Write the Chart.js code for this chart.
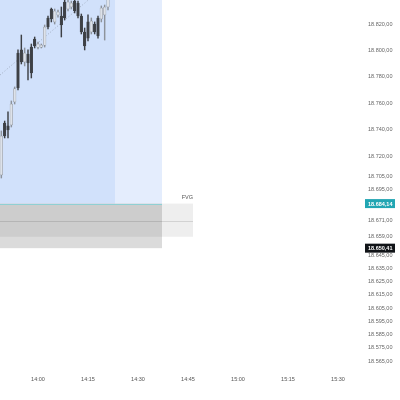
<!DOCTYPE html>
<html>
<head>
<meta charset="utf-8">
<style>
  html, body { margin: 0; padding: 0; background: #fff; }
  canvas { display: block; }
</style>
</head>
<body>
<canvas id="chart" width="400" height="400"></canvas>
<script src="https://cdn.jsdelivr.net/npm/chart.js@4/dist/chart.umd.min.js"></script>
<script>
// 1-minute candles, x = minute of the day (840 = 14:00)
const minutes = [829, 830, 831, 832, 833, 834, 835, 836, 837, 838, 839, 840, 841, 842, 843, 844, 845,
  846, 847, 848, 849, 850, 851, 852, 853, 854, 855, 856, 857, 858, 859, 860, 861];
const opens = [18705.8, 18745.1, 18742.9, 18743.6, 18761.0, 18798.1, 18800.4, 18791.3, 18797.3, 18802.6,
  18808.7, 18802.6, 18802.6, 18804.1, 18824.6, 18831.4, 18821.6, 18826.9, 18826.1, 18836.7, 18831.4,
  18832.9, 18837.4, 18835.9, 18826.1, 18814.0, 18821.6, 18814.0, 18820.0, 18824.6, 18823.8, 18826.9, 18832.9];
const closes = [18735.3, 18735.3, 18739.8, 18759.5, 18770.9, 18771.6, 18791.3, 18798.1, 18790.5, 18783.0,
  18803.4, 18804.9, 18804.1, 18817.8, 18817.8, 18823.8, 18829.9, 18829.1, 18819.3, 18824.6, 18836.7,
  18835.9, 18829.9, 18826.1, 18814.0, 18803.4, 18809.4, 18822.3, 18814.0, 18811.0, 18832.1, 18832.9, 18844.3];
const highs = [18739.1, 18746.6, 18753.5, 18761.8, 18772.4, 18800.4, 18811.7, 18801.9, 18800.4, 18804.9,
  18810.2, 18806.4, 18804.9, 18819.3, 18826.1, 18832.1, 18831.4, 18830.6, 18832.9, 18838.2, 18839.7,
  18837.4, 18839.0, 18837.4, 18827.6, 18817.0, 18826.9, 18824.6, 18821.6, 18826.1, 18833.7, 18834.4, 18846.0];
const lows = [18703.5, 18733.8, 18733.8, 18742.1, 18759.5, 18770.1, 18789.8, 18788.3, 18777.7, 18779.2,
  18801.9, 18801.1, 18801.9, 18802.6, 18816.3, 18821.6, 18820.0, 18825.3, 18810.2, 18823.1, 18829.9,
  18831.4, 18828.4, 18824.6, 18812.5, 18800.4, 18807.2, 18812.5, 18812.5, 18809.4, 18821.6, 18807.9, 18830.6];

// dotted trend line
const trendMinutes = [828.6, 855];
const trendPrices = [18781.4, 18838.0];

// shaded zones (minutes / prices)
const zoneStart = 828;
const zoneSplit = 863.1;
const zoneEnd = 877.2;
const fvgEnd = 886.5;
const fvgTop = 18684.14;
const fvgMid = 18671;
const fvgBottom = 18659;
const zoneBottom = 18650.41;

// axis labels
const priceTicks = [18820, 18800, 18780, 18760, 18740, 18720, 18705, 18695, 18671, 18659, 18645,
  18635, 18625, 18615, 18605, 18595, 18585, 18575, 18565];
const timeTicks = [840, 855, 870, 885, 900, 915, 930];
const markerPrices = [18684.14, 18650.41];

function fmt(v) {
  const [i, d] = v.toFixed(2).split('.');
  return i.replace(/\B(?=(\d{3})+(?!\d))/g, '.') + ',' + d;
}
function hhmm(m) {
  return Math.floor(m / 60) + ':' + String(m % 60).padStart(2, '0');
}
function noPad(s) {
  s.paddingTop = 0; s.paddingBottom = 0; s.paddingLeft = 0; s.paddingRight = 0;
}

const up = minutes.map((m, i) => closes[i] >= opens[i]);

const zones = {
  id: 'zones',
  beforeDatasetsDraw(chart) {
    const { ctx, chartArea: a, scales: { x, y } } = chart;
    const rect = (x0, x1, y0, y1, c) => {
      ctx.fillStyle = c;
      const px0 = x.getPixelForValue(x0), px1 = x.getPixelForValue(x1);
      const py0 = y.getPixelForValue(y0), py1 = y.getPixelForValue(y1);
      ctx.fillRect(px0, py1, px1 - px0, py0 - py1);
    };
    ctx.save();
    ctx.beginPath();
    ctx.rect(a.left, a.top, a.width, a.height);
    ctx.clip();
    rect(zoneStart, zoneSplit, fvgTop, y.max, '#d1e1fb');
    rect(zoneSplit, zoneEnd, fvgTop, y.max, '#e4edfd');
    rect(zoneStart, fvgEnd, fvgBottom, fvgTop, 'rgba(0,0,0,0.065)');
    rect(zoneStart, zoneEnd, zoneBottom, fvgTop, 'rgba(0,0,0,0.14)');
    // mid line of the gap
    ctx.strokeStyle = 'rgba(0,0,0,0.12)';
    ctx.lineWidth = 1;
    ctx.beginPath();
    const my = Math.round(y.getPixelForValue(fvgMid)) + 0.5;
    ctx.moveTo(x.getPixelForValue(zoneStart), my);
    ctx.lineTo(x.getPixelForValue(fvgEnd), my);
    ctx.stroke();
    // price line
    ctx.strokeStyle = '#8fd0d4';
    ctx.beginPath();
    const ty = Math.round(y.getPixelForValue(markerPrices[0])) + 0.5;
    ctx.moveTo(x.getPixelForValue(zoneStart), ty);
    ctx.lineTo(x.getPixelForValue(zoneEnd), ty);
    ctx.stroke();
    // label
    ctx.fillStyle = '#555';
    ctx.font = '5.5px "Liberation Sans"';
    ctx.textAlign = 'right';
    ctx.textBaseline = 'bottom';
    ctx.fillText('FVG', x.getPixelForValue(fvgEnd), y.getPixelForValue(fvgTop) - 3);
    ctx.restore();
  },
  afterDraw(chart) {
    const { ctx, chartArea: a, scales: { y } } = chart;
    const bgs = ['#22a6b3', '#111418'];
    ctx.save();
    ctx.font = 'bold 5.5px "Liberation Sans"';
    ctx.textAlign = 'left';
    ctx.textBaseline = 'middle';
    markerPrices.forEach((p, i) => {
      const py = y.getPixelForValue(p);
      ctx.fillStyle = bgs[i];
      ctx.fillRect(a.right + 3, py - 4.5, 30, 9);
      ctx.fillStyle = '#fff';
      ctx.fillText(fmt(p), a.right + 6, py + 0.5);
    });
    ctx.restore();
  }
};

new Chart(document.getElementById('chart'), {
  type: 'bar',
  data: {
    datasets: [
      {
        type: 'line',
        data: trendMinutes.map((m, i) => ({ x: m, y: trendPrices[i] })),
        borderColor: 'rgba(140,150,165,0.7)',
        borderWidth: 1,
        borderDash: [1, 2],
        pointRadius: 0,
        order: 3
      },
      {
        data: minutes.map((m, i) => ({ x: m, y: [lows[i], highs[i]] })),
        backgroundColor: up.map(u => u ? '#8d939b' : '#3d4045'),
        barThickness: 0.8,
        grouped: false,
        order: 2
      },
      {
        data: minutes.map((m, i) => ({ x: m, y: [opens[i], closes[i]] })),
        backgroundColor: up.map(u => u ? '#dde2ea' : '#3d4045'),
        borderColor: up.map(u => u ? '#8d939b' : '#3d4045'),
        borderWidth: 0.5,
        borderSkipped: false,
        barThickness: 2.6,
        grouped: false,
        order: 1
      }
    ]
  },
  options: {
    responsive: false,
    animation: false,
    layout: { padding: 0 },
    plugins: { legend: { display: false }, tooltip: { enabled: false } },
    scales: {
      x: {
        type: 'linear',
        min: 828.6,
        max: 937.2,
        offset: false,
        grid: { display: false, drawTicks: false },
        border: { display: false },
        afterBuildTicks: s => { s.ticks = timeTicks.map(v => ({ value: v })); },
        afterFit: s => { s.height = 28; noPad(s); },
        ticks: {
          autoSkip: false,
          maxRotation: 0,
          padding: 4,
          color: '#555',
          font: { size: 5.5, family: 'Liberation Sans' },
          callback: v => hhmm(v)
        }
      },
      y: {
        position: 'right',
        min: 18556.7,
        max: 18838.2,
        grid: { display: false, drawTicks: false },
        border: { display: false },
        afterBuildTicks: s => { s.ticks = priceTicks.map(v => ({ value: v })); },
        afterFit: s => { s.width = 38; noPad(s); },
        ticks: {
          autoSkip: false,
          padding: 6,
          color: '#666',
          font: { size: 5.5, family: 'Liberation Sans' },
          callback: v => fmt(v)
        }
      }
    }
  },
  plugins: [zones]
});
</script>
</body>
</html>
